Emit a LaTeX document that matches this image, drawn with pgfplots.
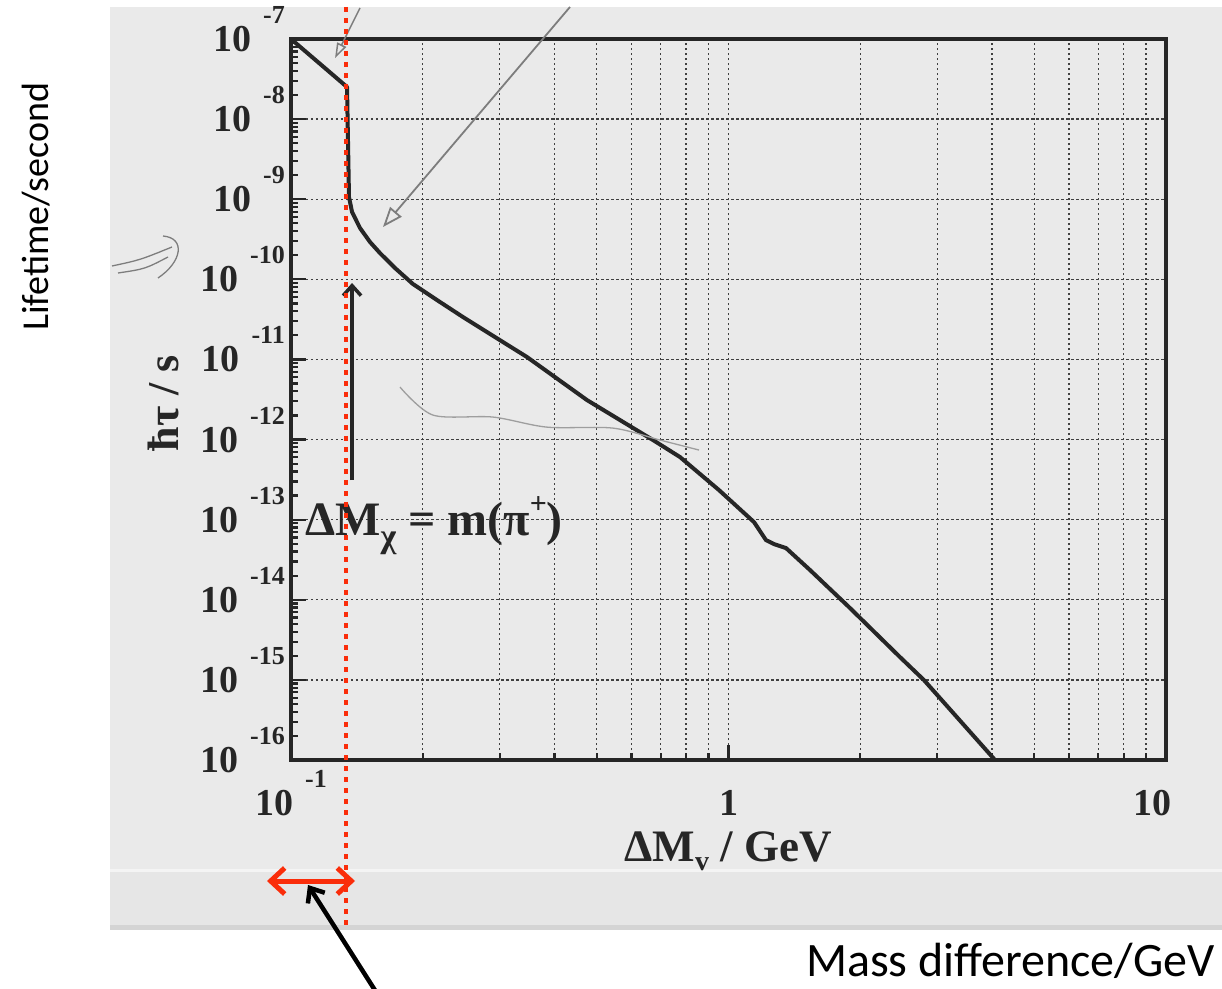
\documentclass[border=0pt]{standalone}
\usepackage{fontspec}
\setmainfont{Liberation Serif}
\newfontfamily\carlito{Carlito}
\usepackage{pgfplots}
\pgfplotsset{compat=1.18}
\usetikzlibrary{arrows.meta}

\definecolor{scan}{RGB}{234,234,234}
\definecolor{band}{RGB}{230,230,230}
\definecolor{scanedge}{RGB}{212,212,212}
\definecolor{ink}{RGB}{38,38,38}
\definecolor{redann}{RGB}{250,45,10}
\definecolor{pencil}{RGB}{125,125,125}

% scanned-style tick label: 10 with the exponent set high above
\newcommand{\ex}[1]{10\hspace{12pt}\smash{\raisebox{28pt}{\fontsize{26}{26}\selectfont #1}}}

\begin{document}
\begin{tikzpicture}
\path[use as bounding box] (0pt,0pt) rectangle (1222pt,988pt);
\clip (0pt,0pt) rectangle (1222pt,988pt);
\fill[white] (0pt,0pt) rectangle (1222pt,988pt);
% the scanned page
\fill[scan] (110pt,58pt) rectangle (1222pt,981pt);
\fill[band] (110pt,61pt) rectangle (1222pt,116pt);
\draw[white!45!scan, line width=3pt] (110pt,118pt) -- (1222pt,118pt);
\fill[scanedge] (110pt,58pt) rectangle (1222pt,63pt);

% pencil scribble left of the axis
\draw[pencil, line width=1.3pt] (112pt,722pt) .. controls (140pt,728pt) .. (172pt,741pt);
\draw[pencil, line width=1.3pt] (118pt,715pt) .. controls (145pt,719pt) .. (168pt,731pt);
\draw[pencil, line width=1.3pt] (163pt,752pt) .. controls (186pt,750pt) and (182pt,726pt) .. (158pt,710pt);

\begin{axis}[
  at={(291pt,228pt)}, anchor=south west,
  width=875pt, height=721pt, scale only axis,
  xmode=log, ymode=log,
  xmin=0.1, xmax=10, ymin=1e-16, ymax=1e-7,
  xtickten={-1,0,1},
  ytickten={-16,-15,-14,-13,-12,-11,-10,-9,-8,-7},
  xticklabels={\ex{-1},1,10\hspace*{28pt}},
  yticklabels={\ex{-16},\ex{-15},\ex{-14},\ex{-13},\ex{-12},\ex{-11},\ex{-10},\ex{-9},\ex{-8},\ex{-7}},
  tick label style={font=\fontsize{38}{40}\selectfont\bfseries, text=ink},
  yticklabel style={anchor=east, inner sep=0pt, xshift=-6pt},
  xticklabel style={anchor=north, inner sep=0pt, yshift=-30pt},
  tick pos=left, tick align=inside,
  major tick length=15pt, minor tick length=7pt,
  tick style={ink, line width=2.2pt},
  axis line style={ink, line width=4pt},
  xmajorgrids, xminorgrids, ymajorgrids,
  grid style={black!75, line width=1.3pt, dash pattern=on 2.5pt off 2.5pt},
  clip=false,
]
% lifetime curve
\addplot[ink, line width=4pt, line join=round] coordinates {
 (0.1,1e-7) (0.1343,2.518e-8) (0.1357,1.065e-9) (0.1379,6.92e-10)
 (0.1438,4.37e-10) (0.1516,2.92e-10) (0.1597,2.13e-10) (0.1729,1.384e-10)
 (0.1900,8.74e-11) (0.2191,5.21e-11) (0.2473,3.38e-11) (0.3463,1.072e-11)
 (0.4749,3.11e-12) (0.6722,9.86e-13) (0.7748,6.05e-13) (0.9513,2.34e-13)
 (1.1437,9.33e-14) (1.218,5.56e-14) (1.2706,4.96e-14) (1.3537,4.42e-14)
 (1.536,2.35e-14) (1.8857,8.11e-15) (2.466,1.926e-15) (2.798,9.94e-16)
 (4.066,1e-16)
};
% faint pencil line
\addplot[pencil!70!scan, line width=1.3pt, smooth] coordinates {
 (0.1775,4.52e-12) (0.2112,2.02e-12) (0.2895,1.91e-12) (0.3847,1.43e-12)
 (0.5445,1.39e-12) (0.6974,9.86e-13) (0.8563,7.4e-13)
};
% pencil arrows
\draw[pencil, line width=1.8pt, -{Triangle[open,length=20pt,width=15pt]}]
  (axis cs:0.4342,2.51e-7) -- (axis cs:0.1623,4.5e-10);
\draw[pencil, line width=1.5pt, -{Triangle[open,length=15pt,width=10pt]}]
  (axis cs:0.1438,2.44e-7) -- (axis cs:0.1261,5.79e-8);
% black arrow and label
\draw[ink, line width=3.5pt, -{Straight Barb[length=10pt,width=18pt]}]
  (axis cs:0.1379,3.12e-13) -- (axis cs:0.1379,9.0e-11);
\node[anchor=base west, inner sep=0pt, font=\fontsize{48}{50}\selectfont\bfseries, text=ink]
  at (axis cs:0.1076,6.43e-14)
  {ΔM\raisebox{-12pt}{\fontsize{34}{34}\selectfont χ} = m(π\raisebox{22pt}{\fontsize{30}{30}\selectfont +})};
% red dotted marker at m(pi+)
\draw[redann, line width=4.5pt, dash pattern=on 5pt off 6pt]
  (axis cs:0.1336,2.51e-7) -- (axis cs:0.1336,8.2e-19);
\end{axis}

% axis titles of the scan
\node[rotate=90, font=\fontsize{44}{46}\selectfont\bfseries, text=ink] at (163pt,585pt) {ħτ / s};
\node[font=\fontsize{45}{46}\selectfont\bfseries, text=ink] at (728pt,137pt)
  {ΔM\raisebox{-9pt}{\fontsize{28}{28}\selectfont v} / GeV};

% red range arrow and pointer
\draw[redann, line width=5pt, {Straight Barb[length=14pt,width=26pt]}-{Straight Barb[length=14pt,width=26pt]}]
  (267pt,107pt) -- (355pt,107pt);
\draw[black, line width=4.5pt, -{Straight Barb[length=12pt,width=20pt]}]
  (378pt,-7pt) -- (308pt,103pt);

% slide annotations
\node[rotate=90, font=\carlito\fontsize{38}{40}\selectfont] at (36pt,781pt) {Lifetime/second};
\node[anchor=base east, inner sep=0pt, font=\carlito\fontsize{48}{50}\selectfont] at (1215pt,12pt) {Mass difference/GeV};
\end{tikzpicture}
\end{document}
